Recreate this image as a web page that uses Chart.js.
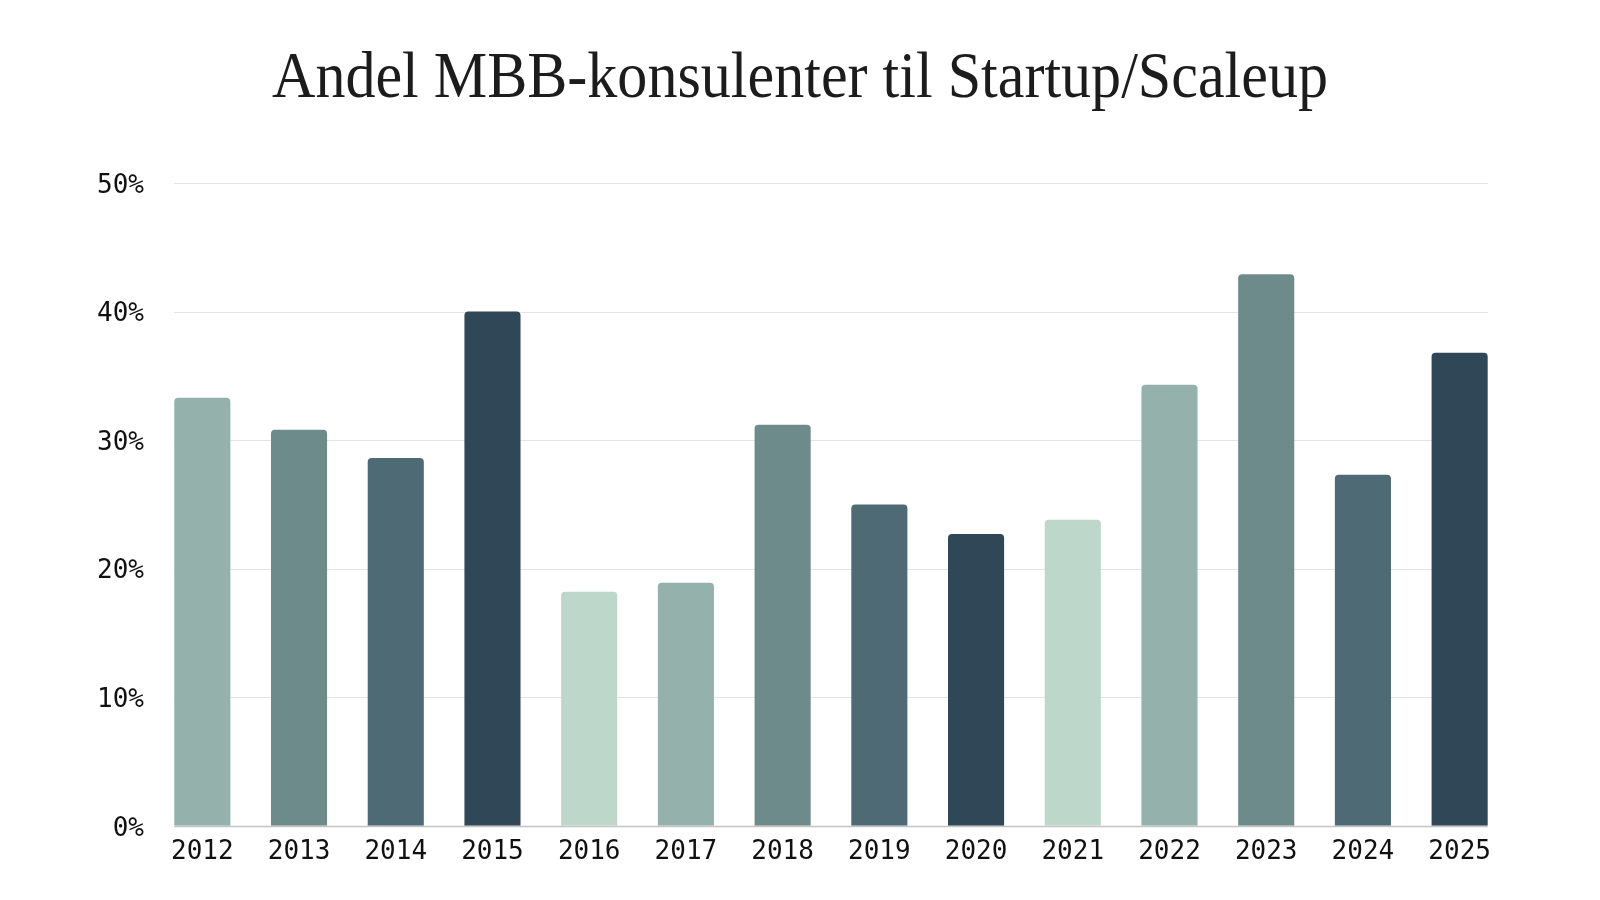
<!DOCTYPE html>
<html>
<head>
<meta charset="utf-8">
<script src="https://cdn.jsdelivr.net/npm/chart.js@4.4.1/dist/chart.umd.min.js"></script>
<style>
  html, body { margin: 0; padding: 0; background: #ffffff; }
  .wrap { position: relative; width: 1600px; height: 900px; }
  .title {
    position: absolute;
    left: 0;
    top: 37px;
    width: 1600px;
    text-align: center;
    font-family: "Liberation Serif", serif;
    font-size: 66px;
    font-weight: normal;
    color: #1c1c1c;
    transform: scaleX(0.91);
    transform-origin: 800px 0;
    white-space: nowrap;
  }
  canvas { position: absolute; left: 0; top: 0; }
</style>
</head>
<body>
<div class="wrap">
  <div class="title">Andel MBB-konsulenter til Startup/Scaleup</div>
  <canvas id="chart" width="1600" height="900"></canvas>
</div>
<script>
const years = ["2012", "2013", "2014", "2015", "2016", "2017", "2018", "2019", "2020", "2021", "2022", "2023", "2024", "2025"];
const shares = [33.3, 30.8, 28.6, 40.0, 18.2, 18.9, 31.2, 25.0, 22.7, 23.8, 34.3, 42.9, 27.3, 36.8];
const yTicks = [0, 10, 20, 30, 40, 50];

const palette = ["#bdd7ca", "#94b1ac", "#6e8b8c", "#4e6a74", "#2f4756"];
const barColors = years.map((_, i) => palette[(i + 1) % palette.length]);

// horizontal grid only across the bars, not the whole chart area
const gridPlugin = {
  id: "barGrid",
  beforeDatasetsDraw(chart) {
    const { ctx, scales } = chart;
    const bars = chart.getDatasetMeta(0).data;
    if (!bars.length) return;
    const first = bars[0];
    const last = bars[bars.length - 1];
    const left = first.x - first.width / 2;
    const right = last.x + last.width / 2;
    ctx.save();
    yTicks.forEach((t) => {
      const y = Math.round(scales.y.getPixelForValue(t)) + 0.5;
      ctx.beginPath();
      ctx.strokeStyle = t === 0 ? "#c4c4c4" : "#e4e4e4";
      ctx.lineWidth = t === 0 ? 1.5 : 1;
      ctx.moveTo(left, y);
      ctx.lineTo(right, y);
      ctx.stroke();
    });
    ctx.restore();
  }
};

new Chart(document.getElementById("chart"), {
  type: "bar",
  data: {
    labels: years,
    datasets: [
      {
        data: shares,
        backgroundColor: barColors,
        borderRadius: { topLeft: 4, topRight: 4 },
        borderSkipped: "bottom",
        categoryPercentage: 1,
        barPercentage: 0.58
      }
    ]
  },
  options: {
    responsive: false,
    animation: false,
    layout: { padding: { top: 183, right: 92, bottom: 21, left: 87 } },
    plugins: {
      legend: { display: false },
      tooltip: { enabled: false }
    },
    scales: {
      x: {
        offset: true,
        grid: { display: false, drawTicks: false },
        border: { display: false },
        ticks: {
          color: "#111111",
          padding: 11,
          font: { family: "DejaVu Sans Mono", size: 26 }
        }
      },
      y: {
        min: 0,
        max: 50,
        afterBuildTicks: (axis) => {
          axis.ticks = yTicks.map((v) => ({ value: v }));
        },
        grid: { display: false, drawTicks: false },
        border: { display: false },
        ticks: {
          color: "#111111",
          padding: 10,
          labelOffset: 3,
          font: { family: "DejaVu Sans Mono", size: 26 },
          callback: (value) => value + "%"
        }
      }
    }
  },
  plugins: [gridPlugin]
});
</script>
</body>
</html>
